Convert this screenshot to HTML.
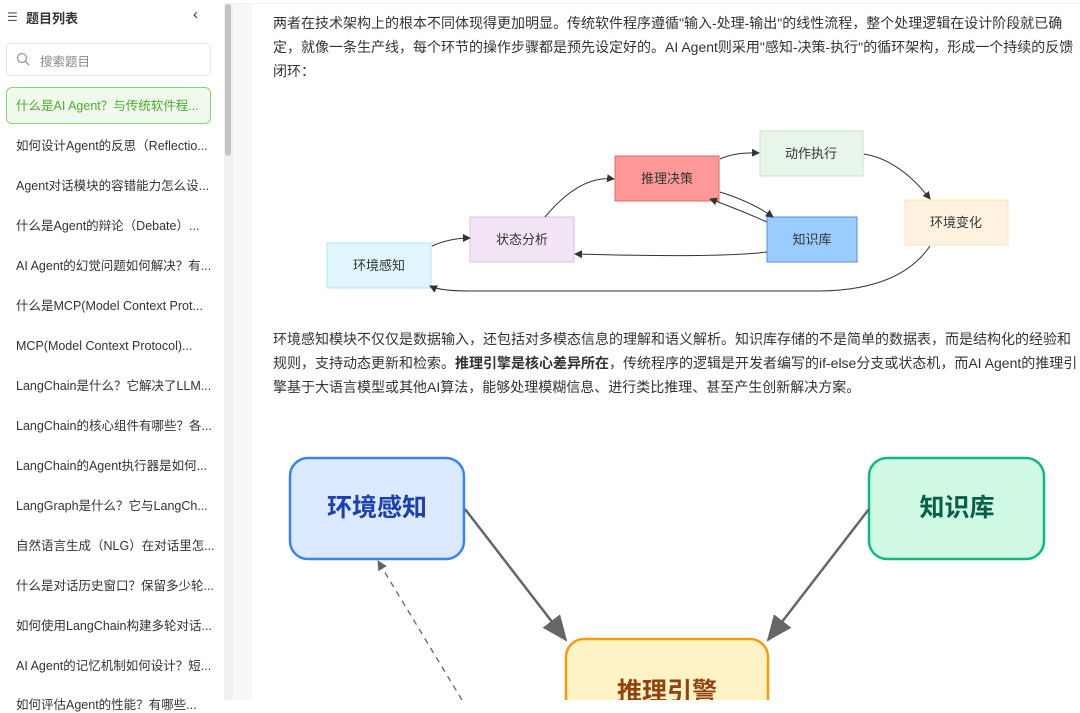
<!DOCTYPE html>
<html><head><meta charset="utf-8"><style>
*{margin:0;padding:0;box-sizing:border-box}
body{width:1080px;height:700px;overflow:hidden;background:#fff;font-family:"Liberation Sans","Noto Sans CJK SC",sans-serif;color:#333;position:relative}
.sb{position:absolute;left:0;top:0;width:224px;height:700px;background:#fff}
.topline{position:absolute;left:0;top:3px;width:1080px;height:1px;background:#eee}
.item{position:absolute;left:16px;font-size:12.5px;line-height:16px;height:16px;color:#333;white-space:nowrap}
.gap{position:absolute;left:232px;top:4px;width:20px;height:696px;background:#f6f7f9;border-left:1px solid #eee}
.track{position:absolute;left:224px;top:4px;width:8px;height:696px;background:#f0f0f0}
.thumb{position:absolute;left:225px;top:4px;width:6px;height:152px;background:#c4c4c4;border-radius:3px}
.p{position:absolute;left:273px;font-size:14px;color:#333;white-space:nowrap;line-height:24px}
</style></head><body>
<div class="topline"></div>
<div class="sb">
<div style="position:absolute;left:7px;top:10px;font-size:12px;color:#555">☰</div>
<div style="position:absolute;left:26px;top:8px;font-size:13px;font-weight:bold;color:#333">题目列表</div>
<div style="position:absolute;left:193px;top:6px;font-size:15px;color:#333">‹</div>
<div style="position:absolute;left:6px;top:43px;width:205px;height:33px;border:1px solid #e3e6ea;border-radius:5px"></div>
<svg style="position:absolute;left:16px;top:52px" width="14" height="14"><circle cx="6" cy="6" r="4.5" fill="none" stroke="#999" stroke-width="1.3"/><line x1="9.5" y1="9.5" x2="13" y2="13" stroke="#999" stroke-width="1.3"/></svg>
<div style="position:absolute;left:40px;top:51px;font-size:12.5px;color:#888">搜索题目</div>
<div style="position:absolute;left:6px;top:87px;width:205px;height:37px;border:1px solid #8fd07a;background:#f0faec;border-radius:6px"></div>
<div class="item" style="top:98px;color:#4eaa2f">什么是AI Agent？与传统软件程...</div>
<div class="item" style="top:138px">如何设计Agent的反思（Reflectio...</div>
<div class="item" style="top:178px">Agent对话模块的容错能力怎么设...</div>
<div class="item" style="top:218px">什么是Agent的辩论（Debate）...</div>
<div class="item" style="top:258px">AI Agent的幻觉问题如何解决？有...</div>
<div class="item" style="top:298px">什么是MCP(Model Context Prot...</div>
<div class="item" style="top:338px">MCP(Model Context Protocol)...</div>
<div class="item" style="top:378px">LangChain是什么？它解决了LLM...</div>
<div class="item" style="top:418px">LangChain的核心组件有哪些？各...</div>
<div class="item" style="top:458px">LangChain的Agent执行器是如何...</div>
<div class="item" style="top:498px">LangGraph是什么？它与LangCh...</div>
<div class="item" style="top:538px">自然语言生成（NLG）在对话里怎...</div>
<div class="item" style="top:578px">什么是对话历史窗口？保留多少轮...</div>
<div class="item" style="top:618px">如何使用LangChain构建多轮对话...</div>
<div class="item" style="top:658px">AI Agent的记忆机制如何设计？短...</div>
<div class="item" style="top:697px">如何评估Agent的性能？有哪些...</div>
</div>
<div class="track"></div><div class="thumb"></div>
<div class="gap"></div>

<div class="p" style="top:11px">两者在技术架构上的根本不同体现得更加明显。传统软件程序遵循"输入-处理-输出"的线性流程，整个处理逻辑在设计阶段就已确<br>定，就像一条生产线，每个环节的操作步骤都是预先设定好的。AI Agent则采用"感知-决策-执行"的循环架构，形成一个持续的反馈<br>闭环：</div>

<svg style="position:absolute;left:0;top:0" width="1080" height="700">
<defs>
<marker id="a" markerWidth="8" markerHeight="8" refX="7" refY="4" orient="auto"><path d="M0,0L8,4L0,8z" fill="#333"/></marker>
<marker id="b" markerWidth="10" markerHeight="10" refX="9" refY="5" orient="auto" markerUnits="userSpaceOnUse"><path d="M0,0L10,5L0,10z" fill="#666"/></marker>
<marker id="big" markerWidth="26" markerHeight="22" refX="24" refY="11" orient="auto" markerUnits="userSpaceOnUse"><path d="M0,0L26,11L0,22z" fill="#666"/></marker>
</defs>
<g font-family="Liberation Sans,Noto Sans CJK SC,sans-serif" font-size="13" fill="#333" text-anchor="middle">
<rect x="327" y="243" width="104" height="45" fill="#e1f5fe" stroke="#b3e5fc"/><text x="379" y="270">环境感知</text>
<rect x="470" y="217" width="104" height="45" fill="#f3e5f5" stroke="#d1c4e9"/><text x="522" y="244">状态分析</text>
<rect x="615" y="156" width="104" height="45" fill="#ff9999" stroke="#d66"/><text x="667" y="183">推理决策</text>
<rect x="760" y="131" width="103" height="45" fill="#e8f5e9" stroke="#c8e6c9"/><text x="811" y="158">动作执行</text>
<rect x="767" y="217" width="90" height="45" fill="#99ccff" stroke="#5a8fcc"/><text x="812" y="244">知识库</text>
<rect x="905" y="200" width="103" height="45" fill="#fff3e0" stroke="#ffe0b2"/><text x="956" y="227">环境变化</text>
</g>
<g fill="none" stroke="#333" stroke-width="1">
<path d="M432,246 Q450,238 470,238" marker-end="url(#a)"/>
<path d="M545,217 Q580,175 614,179" marker-end="url(#a)"/>
<path d="M720,159 Q735,152 759,153" marker-end="url(#a)"/>
<path d="M864,154 Q900,160 930,199" marker-end="url(#a)"/>
<path d="M720,192 Q752,202 773,217" marker-end="url(#a)"/>
<path d="M767,222 Q740,210 710,199" marker-end="url(#a)"/>
<path d="M767,252 Q720,258 575,254" marker-end="url(#a)"/>
<path d="M930,246 Q900,290 820,291 L470,291 Q440,291 430,286" marker-end="url(#a)"/>
</g>
<g font-family="Liberation Sans,Noto Sans CJK SC,sans-serif" font-weight="bold" text-anchor="middle">
<rect x="290" y="458" width="174" height="101" rx="18" fill="#dbeafe" stroke="#3b82f6" stroke-width="2.5"/>
<text x="377" y="516" font-size="25" fill="#1e40af">环境感知</text>
<rect x="869" y="458" width="175" height="101" rx="18" fill="#d1fae5" stroke="#10b981" stroke-width="2.5"/>
<text x="957" y="516" font-size="25" fill="#065f46">知识库</text>
<rect x="566" y="639" width="202" height="100" rx="18" fill="#fef3c7" stroke="#f59e0b" stroke-width="2.5"/>
<text x="667" y="700" font-size="25" fill="#92400e">推理引警</text>
</g>
<line x1="465" y1="509" x2="566" y2="640" stroke="#666" stroke-width="2.5" marker-end="url(#big)"/>
<line x1="869" y1="509" x2="768" y2="640" stroke="#666" stroke-width="2.5" marker-end="url(#big)"/>
<line x1="462" y1="700" x2="378" y2="561" stroke="#666" stroke-width="1.3" stroke-dasharray="6,5" marker-end="url(#b)"/>
</svg>

<div class="p" style="top:327px">环境感知模块不仅仅是数据输入，还包括对多模态信息的理解和语义解析。知识库存储的不是简单的数据表，而是结构化的经验和<br>规则，支持动态更新和检索。<b>推理引擎是核心差异所在</b>，传统程序的逻辑是开发者编写的if-else分支或状态机，而AI Agent的推理引<br>擎基于大语言模型或其他AI算法，能够处理模糊信息、进行类比推理、甚至产生创新解决方案。</div>
</body></html>
